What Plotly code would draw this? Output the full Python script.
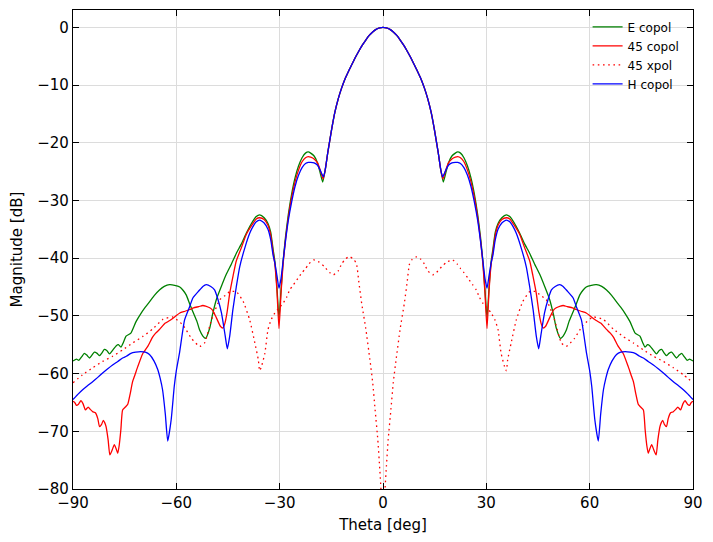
import numpy as np
import plotly.graph_objects as go

# Half-pattern readings (theta >= 0); the measured patterns are symmetric about 0.
main_theta = [0, 1, 2, 3, 4, 5, 6, 7, 8, 9, 10, 11, 12, 13, 14, 15, 16, 16.8]
main_mag = [0, -0.1, -0.35, -0.8, -1.4, -2.2, -3.1, -4.1, -5.2, -6.4, -7.6, -8.9,
            -10.5, -12.4, -14.8, -18.0, -21.6, -24.8]

e_theta = [17.5, 18.2, 19, 20, 21, 21.7, 22.5, 23.5, 24.5, 25.5, 26.5, 27.5, 28.3, 29,
           29.6, 30.2, 30.8, 31.4, 31.9, 32.6, 33.4, 34.5, 35.8, 36.8, 38, 39.7, 41, 42.6,
           44, 45.5, 47, 48.4, 49.5, 50.3, 51.5, 52.3, 53.2, 54, 55.2, 56.2, 57.1, 58, 59,
           60.5, 62, 63.5, 64.9, 66.3, 67.7, 69, 70.3, 71.7, 73.2, 74.6, 75.3, 76.1, 76.8,
           77.5, 78.4, 79.4, 80.2, 80.9, 81.6, 82.3, 83.0, 83.8, 84.5, 85.2, 86.0, 86.7,
           87.5, 88.3, 89.0, 90]
e_mag = [-26.8, -25.3, -23.5, -22.3, -21.8, -21.6, -21.8, -22.6, -24.0, -26.0, -28.8,
         -32.5, -36.3, -40.5, -45.5, -50.4, -45.0, -40.5, -38.5, -35.5, -34.0, -33.0, -32.5,
         -32.8, -33.8, -35.7, -37.4, -39.2, -41.0, -42.8, -45.0, -47.2, -49.8, -52.1, -53.9,
         -53.5, -52.5, -51.0, -49.3, -47.8, -46.4, -45.6, -45.0, -44.7, -44.6, -44.9, -45.5,
         -46.4, -47.5, -48.5, -49.6, -51.0, -53.0, -53.5, -54.5, -55.4, -55.0, -55.2, -55.9,
         -56.6, -56.0, -55.8, -56.4, -56.9, -56.5, -56.3, -56.8, -57.3, -56.8, -56.5, -57.1,
         -57.7, -57.5, -57.8]

c45_theta = [17.4, 18.2, 19, 20, 21, 21.7, 22.5, 23.5, 24.5, 25.5, 26.5, 27.5, 28.3, 29,
             29.6, 30.2, 30.8, 31.4, 31.9, 32.6, 33.4, 34.5, 35.8, 36.8, 38, 39.7, 41, 42.6,
             43.5, 44.5, 45.3, 45.9, 46.5, 47.2, 48.4, 49.5, 50.3, 51.5, 52.3, 53.5, 55,
             56.1, 57.5, 59, 60.5, 61.9, 63.3, 64.8, 66, 66.9, 68.3, 69.8, 71.2, 72.0, 72.7,
             73.4, 74.1, 74.8, 75.6, 76.1, 76.6, 77, 77.5, 78, 78.6, 79.3, 79.8, 80.4, 80.8,
             81.2, 81.7, 82.3, 82.8, 83.5, 84.3, 85.0, 85.6, 86.4, 87.1, 87.7, 88.4, 89,
             89.5, 90]
c45_mag = [-26.3, -24.8, -23.5, -22.8, -22.5, -22.4, -22.6, -23.3, -24.7, -26.7, -29.4,
           -33.0, -36.8, -41.0, -46.0, -52.2, -45.5, -41.0, -39.0, -36.0, -34.3, -33.3,
           -33.0, -33.2, -34.2, -35.9, -38.0, -40.5, -43.0, -46.1, -49.5, -51.3, -52.1,
           -51.8, -50.3, -49.0, -48.6, -48.3, -48.2, -48.4, -48.6, -48.9, -49.2, -49.5,
           -50.2, -50.8, -51.3, -52.3, -53.0, -53.7, -55.3, -56.6, -58.8, -60.2, -61.4,
           -63.5, -65.3, -65.8, -66.3, -69.7, -72.5, -73.8, -73.0, -72.3, -73.2, -74.1,
           -71.5, -69.2, -68.5, -68.1, -68.8, -69.2, -67.8, -66.8, -66.6, -66.2, -65.8,
           -66.3, -65.2, -64.7, -65.3, -65.5, -65.0, -64.8]

x45_theta = [0, 0.6, 1, 1.5, 2.3, 3, 3.8, 5, 6.2, 7, 7.7, 8.5, 9.5, 10.1, 11, 12, 13, 14.4,
             15.5, 17, 18.5, 20.2, 21.5, 22.5, 23.5, 24.7, 26, 27.1, 28, 29, 30, 31.4, 32.5,
             33.4, 34.3, 35.3, 35.8, 36.2, 37.2, 38.7, 40.6, 42.6, 44.5, 45.4, 47.4, 49.8,
             51.8, 53.2, 55.6, 58.1, 61, 63.9, 66.9, 69.8, 72.7, 75.6, 78.5, 81.4, 84.3,
             87.2, 90]
x45_mag = [-100, -80, -76, -71.5, -66.2, -61.5, -57.6, -52.2, -47.8, -44.2, -41.0, -40.2,
           -39.8, -39.8, -40.2, -41.0, -42.2, -42.9, -42.5, -41.5, -40.7, -40.3, -41.0,
           -41.8, -42.5, -43.5, -44.6, -45.5, -46.8, -47.8, -48.5, -49.5, -50.7, -52.4,
           -56.5, -58.8, -59.5, -57.6, -54.7, -50.7, -47.5, -45.8, -45.8, -46.3, -47.2,
           -50.7, -54.7, -55.3, -53.9, -51.6, -50.2, -50.6, -52.3, -53.6, -54.7, -55.9,
           -57.0, -57.9, -59.0, -60.2, -61.6]

h_theta = [17.3, 18.2, 19, 20, 21, 21.7, 22.5, 23.5, 24.5, 25.5, 26.5, 27.5, 28.3, 29,
           29.6, 30.2, 30.8, 31.4, 31.9, 32.6, 33.4, 34.5, 35.8, 36.8, 38, 38.7, 40, 41.6,
           42.6, 43.6, 44.5, 45.2, 45.8, 46.9, 48, 48.9, 50, 51.3, 52.3, 53.5, 55.2, 56.2,
           57.6, 59.1, 60, 60.6, 61.5, 62.5, 63.2, 64, 64.7, 65.4, 66.5, 67.8, 69, 70.3,
           71.8, 73.2, 74.5, 75.6, 77, 78.5, 80, 81.4, 82.9, 84.3, 85.8, 87.2, 88.6, 90]
h_mag = [-25.9, -24.8, -23.9, -23.5, -23.4, -23.4, -23.6, -24.3, -25.6, -27.5, -30.2,
         -33.5, -37.0, -40.5, -43.5, -45.2, -43.0, -40.8, -39.5, -36.8, -35.0, -33.9, -33.4,
         -33.7, -34.8, -35.7, -38.0, -41.5, -45.0, -49.0, -53.5, -55.7, -53.5, -49.5, -47.0,
         -45.5, -44.9, -44.6, -44.9, -45.7, -46.9, -48.5, -50.7, -56.5, -59.5, -62.2, -68.0,
         -71.7, -67.0, -62.8, -60.8, -59.3, -57.8, -56.7, -56.3, -56.2, -56.3, -56.5, -57.0,
         -57.3, -57.9, -58.5, -59.2, -59.9, -60.7, -61.4, -62.1, -62.8, -63.6, -64.5]

x_ticks = [-90, -60, -30, 0, 30, 60, 90]
y_ticks = [-80, -70, -60, -50, -40, -30, -20, -10, 0]


def full(theta, mag):
    t = np.array(theta, dtype=float)
    m = np.array(mag, dtype=float)
    if t[0] == 0:
        return np.concatenate([-t[::-1], t[1:]]), np.concatenate([m[::-1], m[1:]])
    return np.concatenate([-t[::-1], t]), np.concatenate([m[::-1], m])


def copol(theta, mag):
    return full(list(main_theta) + list(theta), list(main_mag) + list(mag))


series = [
    ("E copol", copol(e_theta, e_mag), "#008000", "solid"),
    ("45 copol", copol(c45_theta, c45_mag), "#ff0000", "solid"),
    ("45 xpol", full(x45_theta, x45_mag), "#ff0000", "1.6px,3.6px"),
    ("H copol", copol(h_theta, h_mag), "#0000ff", "solid"),
]

fig = go.Figure()
for name, (t, m), color, dash in series:
    fig.add_trace(go.Scatter(x=t, y=m, mode="lines", name=name,
                             line=dict(color=color, width=1.3, dash=dash,
                                       shape="spline", smoothing=0.5)))

axis_common = dict(
    showgrid=True, gridcolor="#dcdcdc", gridwidth=1,
    showline=True, linecolor="black", linewidth=1.3, mirror="ticks",
    ticks="inside", ticklen=6, tickcolor="black", tickwidth=1,
    zeroline=False,
    tickfont=dict(family="DejaVu Sans", size=15, color="black"),
)

fig.update_layout(
    width=713, height=542,
    margin=dict(l=73, r=20, t=10, b=53),
    paper_bgcolor="white", plot_bgcolor="white",
    font=dict(family="DejaVu Sans", color="black"),
    showlegend=True,
    legend=dict(x=0.83, y=0.995, xanchor="left", yanchor="top",
                bgcolor="rgba(0,0,0,0)", font=dict(size=12, family="DejaVu Sans"),
                tracegroupgap=0),
    xaxis=dict(range=[-90, 90], tickvals=x_ticks,
               title=dict(text="Theta [deg]", font=dict(size=15), standoff=8),
               **axis_common),
    yaxis=dict(range=[-80, 3], tickvals=y_ticks,
               title=dict(text="Magnitude [dB]", font=dict(size=15), standoff=10),
               **axis_common),
)

fig.write_html("out.html")
